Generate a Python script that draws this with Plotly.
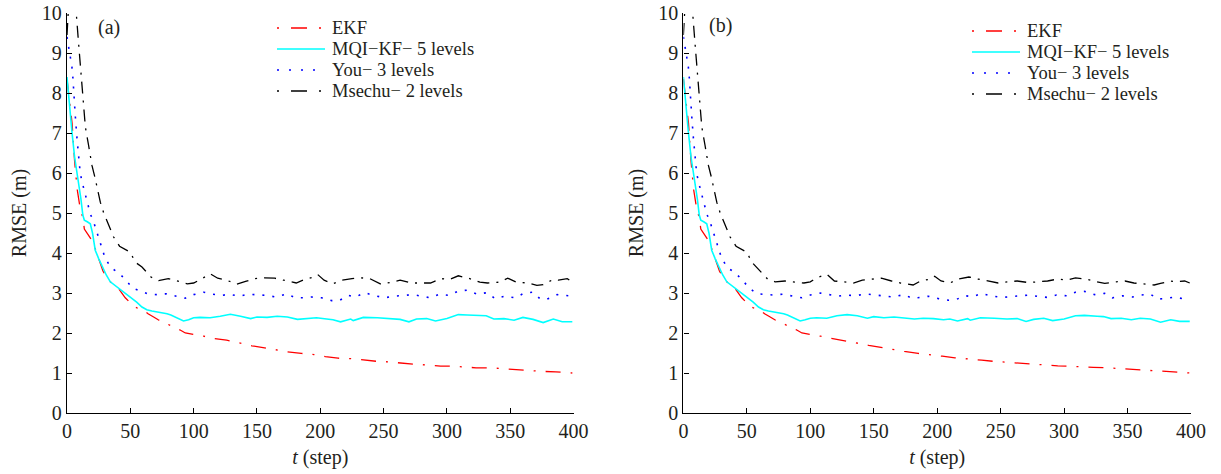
import plotly.graph_objects as go

# ---------------- data ----------------
# Panel (a)
ekf_a_t = [0, 2, 4, 6, 8, 10, 12.6, 13.7, 16, 18.4, 20, 22.3, 25.7, 28.4, 31, 34.2, 40.7, 46, 52.6, 57, 60.5, 64, 68.4, 72, 76.8, 81, 85.5, 89, 93.4, 100,
           108, 116, 126, 135, 146, 156, 165, 174, 185, 195, 204, 214, 224, 235, 245, 253, 265, 274, 284, 295, 304, 314, 323, 334, 343, 352, 364, 375, 386, 394, 399]
ekf_a = [8.35, 7.8, 7.25, 6.3, 5.6, 5.2, 4.86, 4.6, 4.5, 4.4, 4.3, 4.11, 3.78, 3.55, 3.4, 3.28, 3.11, 2.88, 2.67, 2.6, 2.57, 2.48, 2.4, 2.33, 2.26, 2.2, 2.15, 2.08, 2.0, 1.97,
         1.92, 1.86, 1.82, 1.76, 1.68, 1.63, 1.58, 1.53, 1.49, 1.46, 1.41, 1.37, 1.36, 1.32, 1.29, 1.28, 1.24, 1.22, 1.2, 1.17, 1.17, 1.15, 1.13, 1.13, 1.11, 1.08, 1.07, 1.04, 1.03, 1.0, 1.0]

mqi_a_t = [0, 2, 3.9, 6, 7.9, 9.7, 11, 12.5, 13.7, 16, 18.4, 20.2, 22.3, 25, 28.9, 31, 34.2, 38, 41, 44.7, 48, 51.3, 55, 59.2, 63, 67, 71, 75, 79, 82, 85.5, 89, 92, 96, 100,
           105, 113, 121, 129, 137, 145, 150, 158, 166, 174, 182, 189, 197, 205, 210, 216, 224, 226, 234, 245, 255, 263, 270, 276, 284, 291, 300, 309, 316, 326, 331, 337, 345, 353, 360, 368, 376, 384, 391, 399]
mqi_a = [8.4, 7.6, 7.03, 6.4, 5.99, 5.69, 5.35, 4.95, 4.82, 4.78, 4.73, 4.49, 4.07, 3.86, 3.57, 3.45, 3.28, 3.19, 3.12, 3.03, 2.95, 2.86, 2.77, 2.65, 2.58, 2.55, 2.53, 2.51, 2.48, 2.45, 2.4, 2.34, 2.3, 2.33, 2.38,
         2.39, 2.38, 2.42, 2.47, 2.42, 2.36, 2.40, 2.39, 2.42, 2.40, 2.34, 2.36, 2.38, 2.35, 2.33, 2.28, 2.35, 2.31, 2.39, 2.38, 2.36, 2.34, 2.28, 2.35, 2.36, 2.30, 2.36, 2.46, 2.45, 2.44, 2.43, 2.35, 2.36, 2.32, 2.39, 2.34, 2.26, 2.35, 2.28, 2.28]

you_a_t = [0, 2.6, 3.9, 4.7, 5.2, 6.5, 7.9, 10.5, 12.6, 15.8, 18.4, 21.5, 24, 27, 30, 34.7, 40.7, 46.5, 52, 57.9, 63.6, 70.5, 78.4, 86.3, 93.4, 100,
           108, 115, 122, 128, 136, 143, 151, 158, 165, 174, 180, 187, 193, 201, 209, 215, 222, 228, 235, 242, 251, 258, 266, 273, 280, 287, 294, 302, 309, 316, 324, 332, 338, 346, 354, 361, 368, 374, 380, 387, 393, 399]
you_a = [9.4, 8.95, 8.65, 8.36, 8.06, 7.45, 6.86, 5.98, 5.69, 5.28, 4.98, 4.73, 4.46, 4.17, 3.88, 3.63, 3.51, 3.32, 3.12, 3.05, 2.98, 2.96, 2.98, 2.92, 2.87, 2.96,
         3.02, 2.97, 2.94, 2.97, 2.92, 2.97, 2.96, 2.94, 2.9, 2.98, 2.88, 2.88, 2.9, 2.88, 2.81, 2.81, 2.94, 2.9, 3.01, 2.94, 2.88, 2.92, 2.94, 2.96, 2.92, 2.88, 2.97, 2.94, 3.05, 3.07, 2.97, 3.01, 2.86, 2.92, 2.88, 3.0, 3.02, 2.84, 2.86, 2.96, 2.94, 2.92]

msechu_a_t = [0, 2, 5, 7.3, 9, 10.5, 12, 13.5, 14.5, 17, 19.7, 22, 24.2, 26.3, 28.9, 33.6, 36.8, 41.5, 46, 50, 53.9, 59.2, 66.3, 72.3, 80, 88, 95, 100,
              105, 113, 119, 126, 134, 141, 148, 156, 164, 171, 181, 187, 195, 198, 203, 210, 217, 225, 232, 239, 248, 256, 263, 272, 279, 287, 295, 302, 309, 318, 326, 332, 341, 348, 355, 364, 371, 376, 384, 388, 395, 399]
msechu_a = [9.45, 10.6, 10.4, 10.0, 9.3, 8.7, 8.1, 7.6, 7.15, 6.7, 6.19, 5.9, 5.57, 5.27, 5.01, 4.65, 4.4, 4.17, 4.08, 4.02, 3.77, 3.65, 3.4, 3.31, 3.36, 3.29, 3.23, 3.25,
            3.33, 3.48, 3.37, 3.32, 3.22, 3.29, 3.36, 3.38, 3.37, 3.32, 3.25, 3.33, 3.4, 3.46, 3.32, 3.23, 3.32, 3.36, 3.38, 3.36, 3.22, 3.27, 3.32, 3.25, 3.25, 3.25, 3.36, 3.34, 3.43, 3.36, 3.27, 3.25, 3.27, 3.37, 3.27, 3.25, 3.19, 3.21, 3.34, 3.32, 3.36, 3.27]

# Panel (b)
ekf_b_t = ekf_a_t
ekf_b = [8.35, 7.8, 7.25, 6.3, 5.6, 5.2, 4.86, 4.6, 4.5, 4.4, 4.3, 4.11, 3.78, 3.55, 3.4, 3.28, 3.11, 2.88, 2.67, 2.6, 2.57, 2.48, 2.4, 2.33, 2.26, 2.2, 2.15, 2.08, 2.0, 1.97,
         1.92, 1.87, 1.82, 1.76, 1.69, 1.63, 1.58, 1.54, 1.49, 1.46, 1.42, 1.38, 1.36, 1.32, 1.29, 1.27, 1.24, 1.22, 1.2, 1.18, 1.17, 1.15, 1.14, 1.13, 1.11, 1.08, 1.07, 1.05, 1.03, 1.01, 1.0]

mqi_b_t = mqi_a_t
mqi_b = [8.4, 7.6, 7.03, 6.4, 5.99, 5.69, 5.35, 4.95, 4.82, 4.78, 4.73, 4.49, 4.07, 3.86, 3.57, 3.45, 3.28, 3.19, 3.12, 3.03, 2.95, 2.86, 2.77, 2.65, 2.58, 2.55, 2.53, 2.51, 2.48, 2.45, 2.4, 2.34, 2.3, 2.33, 2.37,
         2.38, 2.37, 2.43, 2.46, 2.43, 2.37, 2.41, 2.38, 2.40, 2.38, 2.35, 2.37, 2.36, 2.33, 2.35, 2.30, 2.36, 2.32, 2.38, 2.37, 2.35, 2.36, 2.29, 2.34, 2.37, 2.31, 2.35, 2.43, 2.44, 2.42, 2.41, 2.36, 2.37, 2.33, 2.37, 2.35, 2.27, 2.33, 2.29, 2.29]

you_b_t = you_a_t
you_b = [9.4, 8.95, 8.65, 8.36, 8.06, 7.45, 6.86, 5.98, 5.69, 5.28, 4.98, 4.73, 4.46, 4.17, 3.88, 3.63, 3.51, 3.32, 3.12, 2.98, 2.96, 2.95, 2.97, 2.93, 2.88, 2.95,
         3.0, 2.96, 2.92, 2.95, 2.93, 2.98, 2.95, 2.92, 2.9, 2.96, 2.87, 2.89, 2.92, 2.86, 2.82, 2.84, 2.93, 2.91, 2.99, 2.93, 2.89, 2.91, 2.93, 2.95, 2.91, 2.89, 2.95, 2.93, 3.02, 3.04, 2.96, 2.99, 2.88, 2.93, 2.9, 2.95, 2.97, 2.85, 2.86, 2.9, 2.86, 2.84]

msechu_b_t = msechu_a_t
msechu_b = [9.45, 10.6, 10.4, 10.0, 9.3, 8.7, 8.1, 7.6, 7.15, 6.7, 6.19, 5.9, 5.57, 5.27, 5.01, 4.65, 4.4, 4.17, 4.08, 4.02, 3.77, 3.6, 3.35, 3.28, 3.3, 3.27, 3.25, 3.28,
            3.38, 3.47, 3.3, 3.28, 3.25, 3.32, 3.35, 3.37, 3.3, 3.25, 3.2, 3.3, 3.35, 3.42, 3.3, 3.25, 3.35, 3.4, 3.35, 3.3, 3.25, 3.28, 3.3, 3.26, 3.28, 3.3, 3.35, 3.32, 3.38, 3.34, 3.28, 3.24, 3.28, 3.3, 3.25, 3.22, 3.2, 3.24, 3.3, 3.28, 3.3, 3.25]

legend_names = ["EKF", "MQI\u2212KF\u2212 5 levels", "You\u2212 3 levels", "Msechu\u2212 2 levels"]
panel_labels = ["(a)", "(b)"]
x_ticks = [0, 50, 100, 150, 200, 250, 300, 350, 400]
y_ticks = [0, 1, 2, 3, 4, 5, 6, 7, 8, 9, 10]

# ---------------- styles ----------------
FONT = "Liberation Serif, Times New Roman, serif"
TXT = "#231f20"
styles = [
    dict(color="#ff0000", width=1.3, dash="15px,10px,2px,10px"),
    dict(color="#00ffff", width=1.6, dash="solid"),
    dict(color="#0000ff", width=1.6, dash="2px,8px"),
    dict(color="#000000", width=1.3, dash="12px,7px,2px,7px"),
]
legend_dash = ["2px,12px,16px,12px", "solid", "2px,10px", "2px,12px,16px,12px"]

fig = go.Figure()
panels = [
    ((ekf_a_t, ekf_a), (mqi_a_t, mqi_a), (you_a_t, you_a), (msechu_a_t, msechu_a)),
    ((ekf_b_t, ekf_b), (mqi_b_t, mqi_b), (you_b_t, you_b), (msechu_b_t, msechu_b)),
]
for p, series in enumerate(panels):
    xa = "x" if p == 0 else "x2"
    ya = "y" if p == 0 else "y2"
    for (t, v), name, st in zip(series, legend_names, styles):
        fig.add_trace(go.Scatter(x=t, y=v, mode="lines", name=name, line=st,
                                 xaxis=xa, yaxis=ya, showlegend=False))

dom_a = [0, 0.4507]
dom_b = [0.5484, 1]
ax_common = dict(showline=True, linecolor="#000000", linewidth=1.3, ticks="inside",
                 ticklen=5, tickwidth=1, tickcolor="#000000", showgrid=False, zeroline=False,
                 automargin=False,
                 tickfont=dict(family=FONT, size=20, color=TXT))
for key, dom in (("xaxis", dom_a), ("xaxis2", dom_b)):
    fig.layout[key] = dict(ax_common, domain=dom, range=[0, 400], tickvals=x_ticks,
                           title=dict(text="<i>t</i> (step)", font=dict(family=FONT, size=20, color=TXT), standoff=8),
                           anchor="y" if key == "xaxis" else "y2")
for key in ("yaxis", "yaxis2"):
    fig.layout[key] = dict(ax_common, range=[0, 10], tickvals=y_ticks,
                           title=dict(text="RMSE (m)", font=dict(family=FONT, size=20, color=TXT), standoff=9),
                           anchor="x" if key == "yaxis" else "x2")

# layout helpers (pixel -> paper)
W = 1124.0
H = 400.0
L, T = 67.0, 13.0
def px(xp):
    return (xp - L) / W
def py(yp):
    return 1 - (yp - T) / H

# panel labels
fig.add_annotation(x=px(109), y=py(27), xref="paper", yref="paper", text=panel_labels[0], showarrow=False,
                   xanchor="center", yanchor="middle", font=dict(family=FONT, size=20, color=TXT))
fig.add_annotation(x=px(720), y=py(26), xref="paper", yref="paper", text=panel_labels[1], showarrow=False,
                   xanchor="center", yanchor="middle", font=dict(family=FONT, size=20, color=TXT))

# manual legends
leg_specs = [(277, 331, [28, 49, 70, 91]), (972, 1026, [31, 52, 73, 94])]
for x0, xt, rows in leg_specs:
    for name, st, ld, yr in zip(legend_names, styles, legend_dash, rows):
        fig.add_shape(type="line", xref="paper", yref="paper", x0=px(x0), x1=px(x0 + 48),
                      y0=py(yr), y1=py(yr),
                      line=dict(color=st["color"], width=st["width"], dash=ld))
        fig.add_annotation(x=px(xt), y=py(yr), xref="paper", yref="paper", text=name,
                           showarrow=False, xanchor="left", yanchor="middle",
                           borderpad=0,
                           font=dict(family=FONT, size=18.5, color=TXT))

fig.update_layout(width=1221, height=474, margin=dict(l=67, r=30, t=13, b=61),
                  plot_bgcolor="white", paper_bgcolor="white", showlegend=False)
fig.write_html("out.html", post_script="document.body.style.margin='0px';",
               config={"displayModeBar": False})
